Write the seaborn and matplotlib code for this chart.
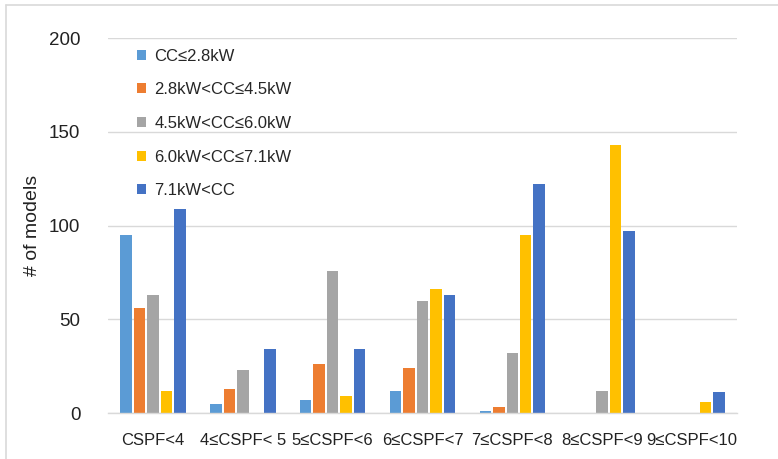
import pandas as pd
import numpy as np
import matplotlib
matplotlib.use("Agg")
import matplotlib.pyplot as plt
import seaborn as sns
from matplotlib.lines import Line2D

categories = ["CSPF<4", "4≤CSPF< 5", "5≤CSPF<6", "6≤CSPF<7",
              "7≤CSPF<8", "8≤CSPF<9", "9≤CSPF<10"]
series = ["CC≤2.8kW", "2.8kW<CC≤4.5kW", "4.5kW<CC≤6.0kW",
          "6.0kW<CC≤7.1kW", "7.1kW<CC"]
cc_le_28 = [95, 5, 7, 12, 1, 0, 0]
cc_28_45 = [56, 13, 26, 24, 3, 0, 0]
cc_45_60 = [63, 23, 76, 60, 32, 12, 0]
cc_60_71 = [12, 0, 9, 66, 95, 143, 6]
cc_gt_71 = [109, 34, 34, 63, 122, 97, 11]
colors = ["#5B9BD5", "#ED7D31", "#A5A5A5", "#FFC000", "#4472C4"]

values = [cc_le_28, cc_28_45, cc_45_60, cc_60_71, cc_gt_71]
df = pd.DataFrame({
    "category": np.tile(categories, len(series)),
    "series": np.repeat(series, len(categories)),
    "models": np.concatenate(values),
})

sns.set_theme(style="white")
plt.rcParams['font.family'] = ['Liberation Sans', 'DejaVu Sans']

fig = plt.figure(figsize=(7.78, 4.59), dpi=100)
ax = fig.add_axes([0.139, 0.100, 0.808, 0.817])

sns.barplot(data=df, x="category", y="models", hue="series",
            order=categories, hue_order=series, palette=colors,
            saturation=1, width=0.75, gap=0.15, linewidth=0, ax=ax)

ax.set_ylim(0, 200)
ax.set_xlim(-0.5, 6.5)
ax.set_yticks([0, 50, 100, 150, 200])
ax.yaxis.grid(True, color="#D9D9D9", linewidth=1)
ax.set_axisbelow(True)
for s in ["top", "right", "left"]:
    ax.spines[s].set_visible(False)
ax.spines["bottom"].set_color("#D9D9D9")
ax.spines["bottom"].set_linewidth(1)
ax.tick_params(axis="both", length=0, colors="#222222")
ax.tick_params(axis="x", pad=14, labelsize=12)
ax.tick_params(axis="y", pad=20, labelsize=13.5)
ax.set_xlabel("")
ax.set_ylabel("# of models", fontsize=14, color="#222222", labelpad=6)

handles, labels = ax.get_legend_handles_labels()
ax.legend(handles, labels, loc="upper left", bbox_to_anchor=(130 / 778, 1 - 42 / 459),
          bbox_transform=fig.transFigure, frameon=False, fontsize=12,
          handlelength=0.55, handleheight=0.55, handletextpad=0.5,
          labelspacing=1.12, borderaxespad=0)

# chart area border (Excel-style)
fig.add_artist(Line2D([6 / 778, 1], [1 - 5 / 459, 1 - 5 / 459], color="#D9D9D9", lw=1.2))
fig.add_artist(Line2D([6 / 778, 6 / 778], [0, 1 - 5 / 459], color="#D9D9D9", lw=1.2))

fig.savefig("out.png", dpi=100)
